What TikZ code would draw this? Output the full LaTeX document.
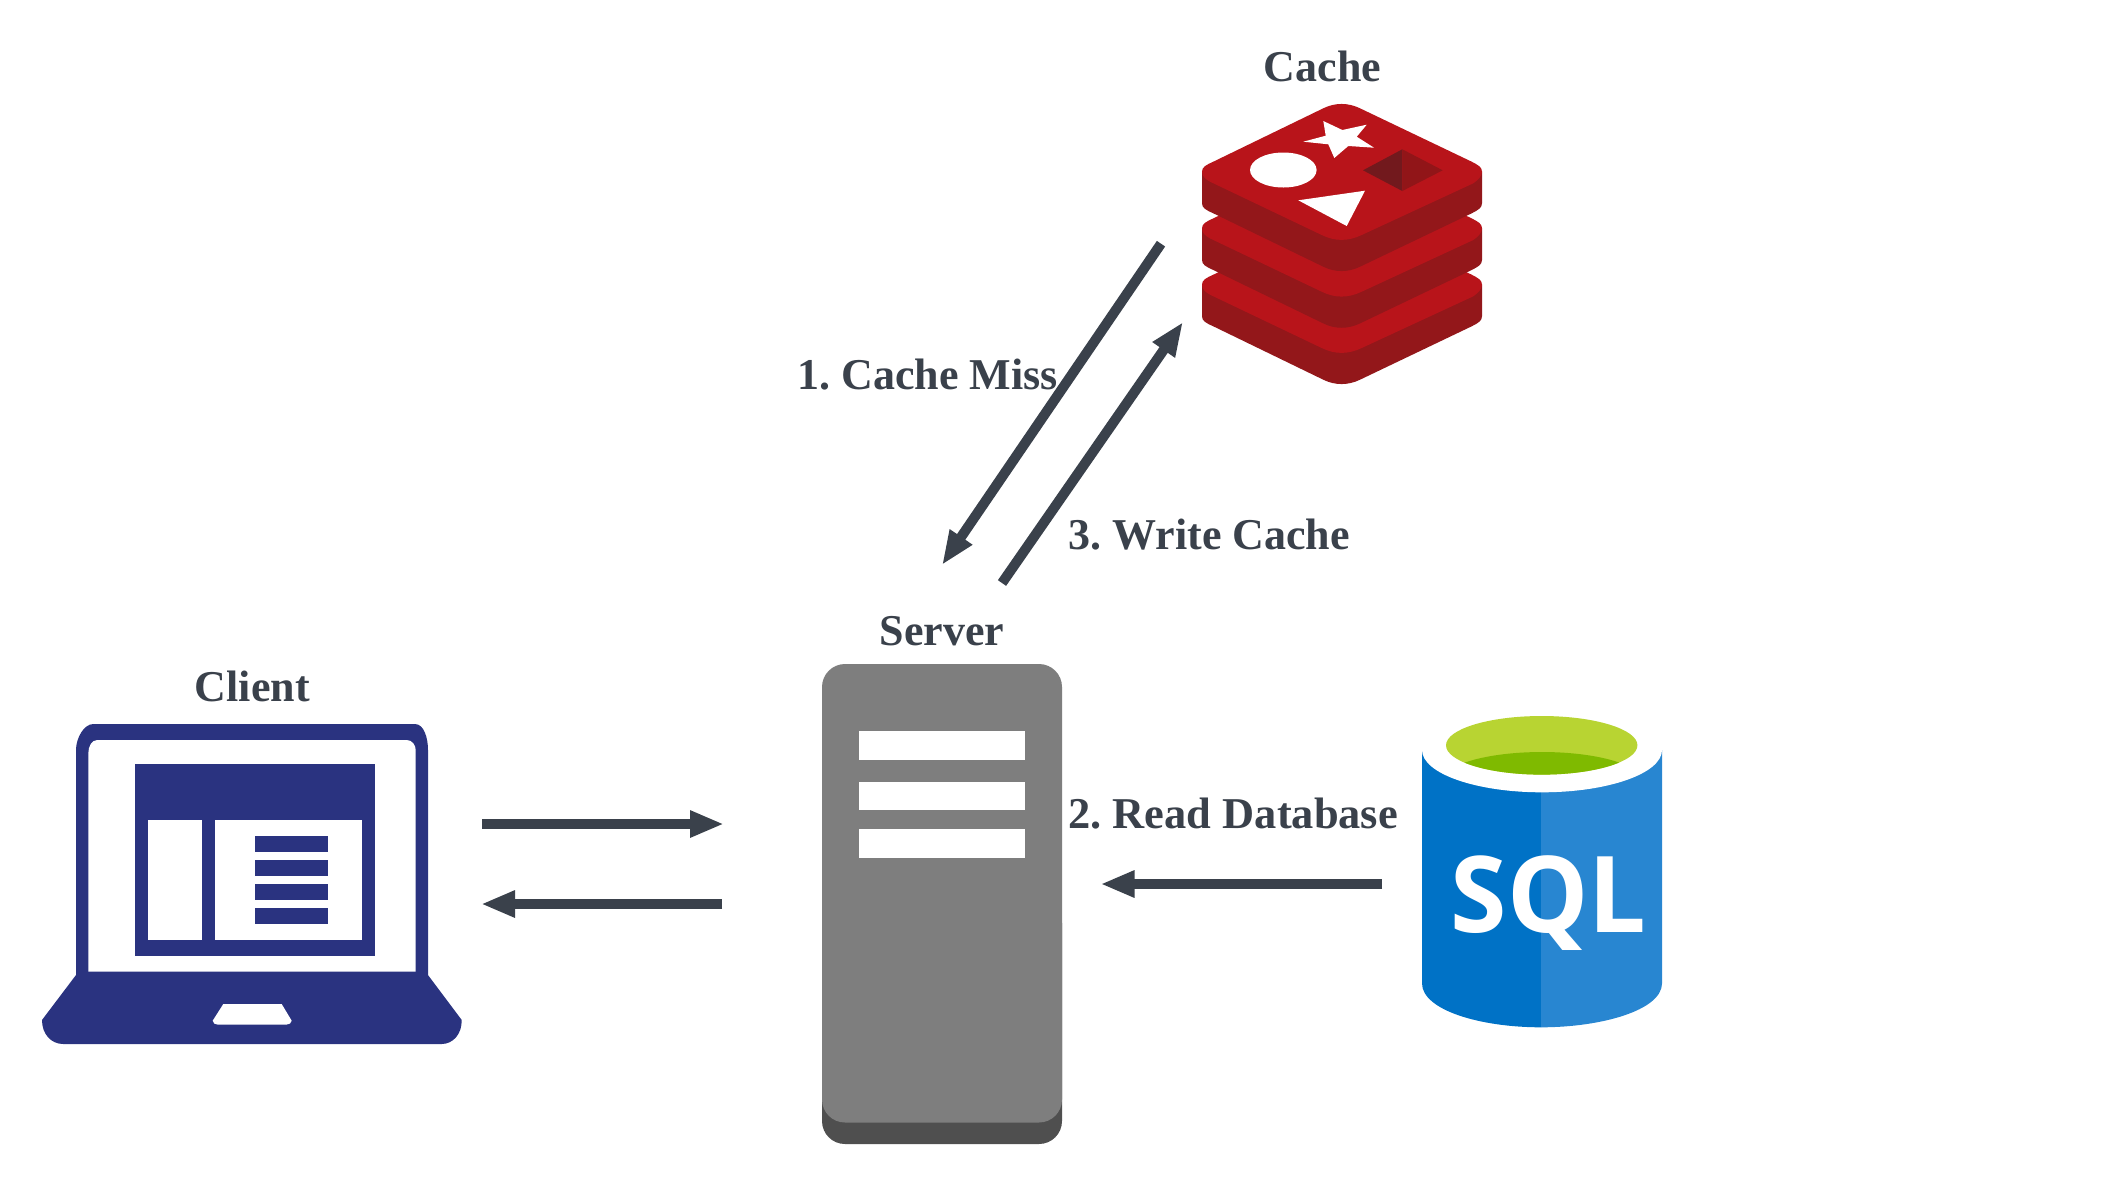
\documentclass[tikz,border=0pt]{standalone}
\usepackage{fontspec}
\setmainfont{Liberation Serif}
\newfontfamily\sqlfont{Open Sans}
\usetikzlibrary{arrows.meta}
\definecolor{ink}{HTML}{3A414B}
\definecolor{navy}{HTML}{2A3380}
\definecolor{srvtop}{HTML}{7E7E7E}
\definecolor{srvbase}{HTML}{4F4F4F}
\definecolor{redtop}{HTML}{B8141A}
\definecolor{redside}{HTML}{93171A}
\definecolor{reddkA}{HTML}{72191D}
\definecolor{reddkB}{HTML}{911518}
\definecolor{sqlL}{HTML}{0072C6}
\definecolor{sqlR}{HTML}{2886D1}
\definecolor{limeA}{HTML}{B8D432}
\definecolor{limeB}{HTML}{7FBA00}
\tikzset{
  lbl/.style={text=ink,font=\fontsize{22}{26}\selectfont\bfseries\frenchspacing,inner sep=0pt,anchor=base},
  lblw/.style={lbl,anchor=base west},
  flow/.style={draw=ink,line width=5pt,-{Triangle[length=17pt,width=12.5pt,fill=ink]}},
}
\newcommand{\redislayer}[1]{%
  \begin{scope}[shift={(0,#1)}]
    \fill[redside] (1202,171.7) -- (1202,203.3) .. controls (1202,208) and (1206,210) .. (1213.3,213.3)
      -- (1323.3,266.7) .. controls (1335,272.5) and (1348,272.5) .. (1360,266.7)
      -- (1471.7,213.3) .. controls (1478,210) and (1482,208) .. (1482,203.3) -- (1482,171.7) -- cycle;
    \fill[redtop] (1202,171.7) .. controls (1202,167) and (1206,165) .. (1213.3,161.7)
      -- (1323.3,108.3) .. controls (1335,102.5) and (1348,102.5) .. (1360,108.3)
      -- (1471.7,161.7) .. controls (1478,165) and (1482,167) .. (1482,171.7)
      .. controls (1482,176) and (1478,180) .. (1473.3,183.3)
      -- (1361.7,235) .. controls (1348,241.5) and (1335,241.5) .. (1321.7,235)
      -- (1210,181.7) .. controls (1205,179) and (1202,176) .. (1202,171.7) -- cycle;
  \end{scope}}
\begin{document}
\begin{tikzpicture}[x=0.5pt,y=-0.5pt]
\useasboundingbox (0,0) rectangle (2102,1184);
\fill[white] (0,0) rectangle (2102,1184);

% --- Cache icon
\redislayer{113}
\redislayer{56.7}
\redislayer{0}
\fill[white] (1323.3,121) -- (1342.3,130) -- (1366.7,124.7) -- (1356.7,136.7) -- (1374,147.7)
  -- (1348.3,146) -- (1334.3,158) -- (1328.3,144.3) -- (1303.3,141.7) -- (1325.7,135.7) -- cycle;
\fill[white] (1283.3,170) ellipse [x radius=33.3,y radius=17.5];
\fill[white] (1298.3,200.3) -- (1365,190.7) -- (1346.7,226) -- cycle;
\fill[reddkA] (1363,170.3) -- (1402.3,149.3) -- (1402.3,191) -- cycle;
\fill[reddkB] (1442.7,170.3) -- (1402.3,149.3) -- (1402.3,191) -- cycle;

% --- Client icon
\fill[navy] (76,750) .. controls (76,738) and (84,724) .. (93.3,724) -- (415,724)
  .. controls (424,724) and (428,738) .. (428,750) -- (428,975) -- (461.7,1020)
  .. controls (462,1034) and (453,1044) .. (441.7,1044) -- (63.3,1044)
  .. controls (51,1044) and (42,1034) .. (42,1020) -- (76,975) -- cycle;
\fill[white] (88.3,753.3) .. controls (88.3,746) and (92,740) .. (97.3,740) -- (406.7,740)
  .. controls (412,740) and (415.7,745) .. (415.7,750) -- (415.7,971.7) -- (88.3,971.7) -- cycle;
\fill[navy] (135,764) rectangle (374.7,956);
\fill[white] (148.3,820) rectangle (201.7,940);
\fill[white] (215,820) rectangle (361.7,940);
\foreach \yy in {836,860,884,908} \fill[navy] (255,\yy) rectangle (328,\yy+16);
\fill[white] (223.3,1004) -- (281.7,1004) -- (291.7,1020.7) .. controls (291.7,1023) and (289,1024.7) .. (286,1024.7)
  -- (218,1024.7) .. controls (215,1024.7) and (212.7,1023) .. (212.7,1020.7) -- cycle;

% --- Server icon
\fill[srvbase,rounded corners=11.5pt] (822,900) rectangle (1062,1144);
\fill[srvtop,rounded corners=11.5pt] (822,664) rectangle (1062,1122.5);
\fill[white] (859,731.4) rectangle (1024.7,760);
\fill[white] (859,782) rectangle (1024.7,810);
\fill[white] (859,829) rectangle (1024.7,858);

% --- SQL icon
\fill[sqlL] (1422,750) -- (1422,983.3) .. controls (1422,1010) and (1480,1027.3) .. (1541,1027.3) -- (1541,750) -- cycle;
\fill[sqlR] (1662,750) -- (1662,983.3) .. controls (1662,1010) and (1602,1027.3) .. (1541,1027.3) -- (1541,750) -- cycle;
\fill[white] (1542,750) ellipse [x radius=120,y radius=42.3];
\fill[white] (1422,700) rectangle (1662,750);
\fill[limeA] (1541.7,745.3) ellipse [x radius=95.7,y radius=29.3];
\begin{scope}
  \clip (1541.7,745.3) ellipse [x radius=95.7,y radius=29.3];
  \fill[limeB] (1542,781) ellipse [x radius=100,y radius=29];
\end{scope}
\node[inner sep=0pt,anchor=base west,text=white,xscale=0.965,font=\fontsize{53}{60}\sqlfont\bfseries] (sqltext) at (1450.5,932.7) {SQL};

% --- Labels
\node[lbl] (cache) at (1322.5,81.7) {Cache};
\node[lbl] (client) at (252.3,701) {Client};
\node[lbl] (server) at (942,645) {Server};
\node[lblw] (l1) at (797,389.5) {1. Cache Miss};
\node[lblw] (l3) at (1068,549.5) {3. Write Cache};
\node[lblw,xscale=1.01] (l2) at (1068,828) {2. Read Database};

% --- Connector ends
\coordinate (a1s) at (1161,243.7);
\coordinate (a1e) at (942,565);
\coordinate (a3s) at (1002,583);
\coordinate (a3e) at (1183,322);
\coordinate (ars) at (482,824);
\coordinate (are) at (724,824);
\coordinate (als) at (722,904);
\coordinate (ale) at (481,904);
\coordinate (ads) at (1382,884);
\coordinate (ade) at (1100.5,884);
\draw[flow] (a1s) -- (a1e);
\draw[flow] (a3s) -- (a3e);
\draw[flow] (ars) -- (are);
\draw[flow] (als) -- (ale);
\draw[flow] (ads) -- (ade);
\end{tikzpicture}
\end{document}
